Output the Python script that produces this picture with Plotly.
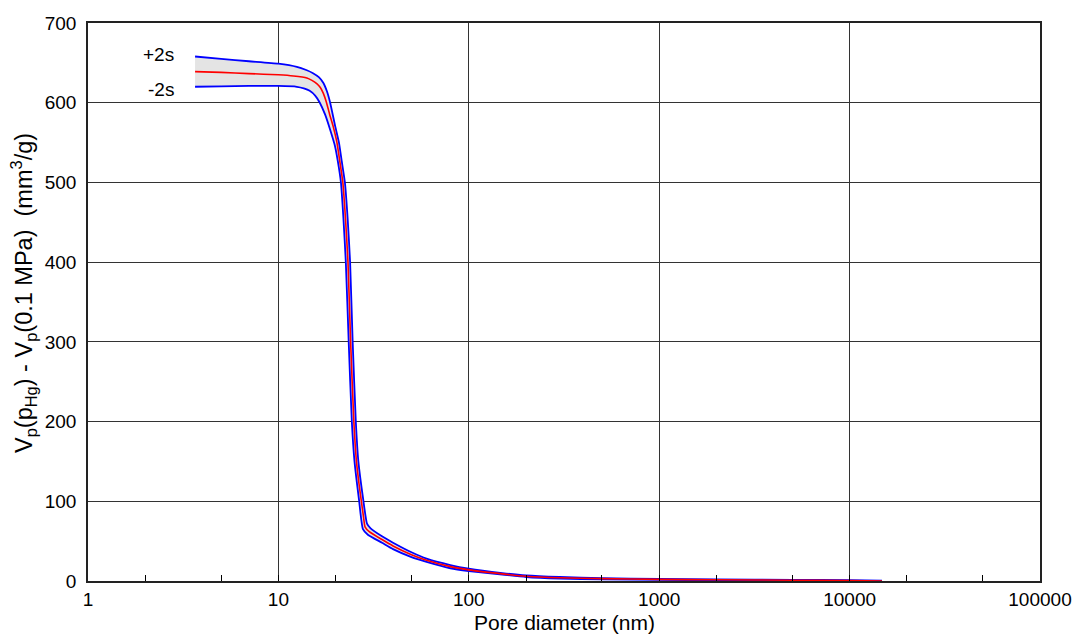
import plotly.graph_objects as go

# Mean curve: pore diameter (nm) and intruded volume (mm3/g)
mean_d = [3.65, 5, 7, 10, 12, 14.1, 15, 15.9, 16.6, 17.2, 17.9, 18.6, 19.4, 20.3, 21.0,
          21.8, 22.5, 23.2, 23.95, 24.9, 25.7, 26.5, 27.2, 28, 28.5, 30, 35, 40, 50, 60,
          80, 100, 150, 200, 300, 500, 1000, 2000, 5000, 10000, 14800]
mean_v = [639, 638, 636.5, 635, 633.5, 631, 628, 624, 619, 612, 600, 585, 570, 550, 527,
          500, 455, 400, 300, 200, 150, 122, 102, 80, 68, 62, 52, 44, 33, 26,
          18, 14, 9, 6, 4, 3, 2, 1.5, 1, 0.5, 0]

# +2s curve
upper_d = [3.65, 5, 7, 10, 12.5, 14, 15.2, 16.3, 17.2, 18, 18.7, 19.9, 20.8, 21.5, 22.35,
           23.1, 23.8, 24.55, 25.5, 26.3, 27.9, 29.2, 30.5, 35, 40, 50, 60, 80, 100,
           150, 200, 300, 500, 1000, 2000, 5000, 10000, 14800]
upper_v = [658, 655, 652, 649, 645, 641, 637, 632, 625, 614, 600, 570, 550, 527, 500,
           455, 400, 300, 200, 150, 102, 72, 66, 56, 48, 36, 28, 20, 15.5,
           10, 7, 5, 3.5, 2.5, 2, 1.5, 1, 0.5]

# -2s curve
lower_d = [3.65, 5, 7, 10, 12.5, 13.6, 14.6, 15.6, 16.5, 17.6, 18.7, 19.8, 20.5, 21.3,
           21.95, 22.6, 23.4, 24.3, 25.1, 26.5, 27.8, 29.5, 35, 40, 50, 60, 80, 100,
           150, 200, 300, 500, 1000, 2000, 5000, 10000, 14800]
lower_v = [620, 620.5, 621, 621, 620, 618, 615, 609, 600, 585, 566, 546, 527, 500,
           455, 400, 300, 200, 150, 102, 65, 58, 48, 40, 30, 24, 16, 12.5,
           8, 5, 3, 2, 1.5, 1, 0.5, 0, 0]

x_tickvals = [1, 10, 100, 1000, 10000, 100000]
x_ticktext = ["1", "10", "100", "1000", "10000", "100000"]
y_tickvals = [0, 100, 200, 300, 400, 500, 600, 700]

FONT = "Arial, Liberation Sans, sans-serif"
LINE_SHAPE = dict(shape="spline", smoothing=0.5)

fig = go.Figure()
fig.add_trace(go.Scatter(x=lower_d, y=lower_v, mode="lines",
                         line=dict(color="#0000ff", width=1.8, **LINE_SHAPE),
                         showlegend=False))
fig.add_trace(go.Scatter(x=upper_d, y=upper_v, mode="lines", fill="tonexty",
                         fillcolor="#e4e4e4",
                         line=dict(color="#0000ff", width=1.8, **LINE_SHAPE),
                         showlegend=False))
fig.add_trace(go.Scatter(x=mean_d, y=mean_v, mode="lines",
                         line=dict(color="#ff0000", width=1.6, **LINE_SHAPE),
                         showlegend=False))

fig.add_annotation(x=0.462, y=661, xref="x", yref="y", text="+2s", showarrow=False,
                   xanchor="right", font=dict(family=FONT, size=19, color="black"))
fig.add_annotation(x=0.462, y=616, xref="x", yref="y", text="-2s", showarrow=False,
                   xanchor="right", font=dict(family=FONT, size=19, color="black"))

# axis titles placed as annotations for exact positioning
fig.add_annotation(x=0.5, y=0, xref="paper", yref="paper", yshift=-41,
                   text="Pore diameter (nm)", showarrow=False,
                   xanchor="center", yanchor="middle",
                   font=dict(family=FONT, size=21, color="black"))
fig.add_annotation(x=0, y=0.5, xref="paper", yref="paper", xshift=-65, yshift=9,
                   text="V<sub>p</sub>(p<sub>Hg</sub>) - V<sub>p</sub>(0.1 MPa)&nbsp;&nbsp;(mm<sup>3</sup>/g)",
                   showarrow=False, textangle=-90,
                   xanchor="center", yanchor="middle",
                   font=dict(family=FONT, size=23.5, color="black"))

fig.update_layout(
    width=1066, height=627,
    margin=dict(l=80, r=34, t=15, b=54, autoexpand=False),
    paper_bgcolor="white", plot_bgcolor="white",
    font=dict(family=FONT, size=19, color="black"),
    xaxis=dict(
        type="log", range=[0, 5], tickvals=x_tickvals, ticktext=x_ticktext,
        automargin=False,
        showgrid=True, gridcolor="#333333", gridwidth=1,
        showline=True, linecolor="#222222", linewidth=1.5, mirror=True,
        ticks="inside", ticklen=6, tickcolor="black",
        minor=dict(ticks="inside", ticklen=6, tickcolor="black", showgrid=False),
        zeroline=False,
        tickfont=dict(size=19),
    ),
    yaxis=dict(
        range=[0, 700], tickvals=y_tickvals,
        automargin=False,
        showgrid=True, gridcolor="#333333", gridwidth=1,
        showline=True, linecolor="#222222", linewidth=1.5, mirror=True,
        ticks="", zeroline=False, ticklabelstandoff=6,
        tickfont=dict(size=19),
    ),
)

fig.write_html("out.html")
